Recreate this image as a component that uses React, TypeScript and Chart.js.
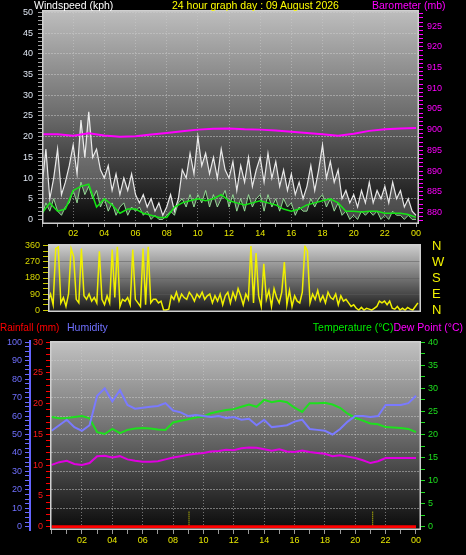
import React, { useEffect, useRef } from 'react';
import { Chart, registerables } from 'chart.js';

Chart.register(...registerables);

const FONT = '"Liberation Sans", Arial, sans-serif';

// ---------- data ----------
// wind, every 15 minutes from 00:00 to 24:00 (kph)
const gustKph = [
  8, 17, 5, 10, 17, 6, 9, 13, 18, 11, 24, 15, 26, 15, 17, 12, 10, 13, 7, 11, 6, 10, 7, 11,
  6, 4, 6, 3, 5, 2, 4, 1, 3, 6, 2, 5, 12, 10, 16, 11, 20, 13, 16, 11, 15, 10, 17, 12,
  10, 14, 7, 13, 9, 15, 8, 12, 15, 9, 16, 10, 14, 8, 12, 7, 11, 6, 9, 5, 8, 13, 7, 12,
  18, 10, 14, 9, 12, 5, 7, 4, 6, 3, 7, 4, 9, 4, 7, 5, 8, 4, 9, 5, 7, 3, 5, 2, 1,
];
const speedKph = [
  1, 4, 2, 5, 2, 1, 3, 4, 7, 4, 9, 6, 8, 5, 7, 3, 5, 2, 4, 1, 3, 4, 1, 3,
  2, 3, 1, 2, 0, 1, 0, 0, 1, 2, 1, 4, 5, 3, 6, 3, 6, 4, 7, 3, 6, 3, 5, 7,
  3, 6, 2, 5, 2, 6, 3, 5, 6, 2, 6, 3, 5, 2, 5, 3, 4, 1, 3, 2, 2, 5, 3, 5,
  6, 3, 5, 2, 4, 1, 2, 0, 1, 0, 2, 1, 2, 1, 2, 0, 1, 0, 2, 1, 1, 0, 1, 0, 0,
];
// average wind, every 30 minutes (kph)
const avgKph = [
  1.5, 4, 2, 2.5, 7, 8, 8.5, 3, 5, 3.5, 1.5, 2.5, 2.5, 1.5, 1, 0.5, 0.5, 3, 4, 4.5,
  5, 4.5, 5, 6, 4.5, 4, 3.5, 4, 4.5, 4, 3.5, 2.5, 2, 2.5, 3.5, 4, 4.5, 5, 4, 2,
  2, 1.8, 2, 2, 1.5, 1.5, 1.5, 1.2, 0.5,
];
// barometer, hourly (mb)
const baroMb = [
  898.9, 898.9, 898.5, 899.1, 898.6, 898.3, 898.4, 898.8, 899.2, 899.6, 900.0, 900.2, 900.3,
  900.1, 900.0, 899.8, 899.5, 899.2, 898.9, 898.5, 899.0, 899.7, 900.1, 900.3, 900.4,
];
// wind direction, every 10 minutes (degrees)
const windDirDeg = [
  50, 90, 30, 345, 355, 40, 70, 20, 90, 345, 300, 60, 40, 345, 80, 60, 90, 50,
  70, 40, 330, 60, 30, 80, 40, 340, 70, 355, 20, 60, 50, 70, 30, 340, 60, 40,
  20, 345, 30, 355, 40, 60, 60, 40, 50, 0, 0, 5, 80, 60, 100, 50, 90, 70,
  60, 100, 80, 50, 90, 70, 100, 60, 80, 90, 40, 80, 50, 90, 30, 80, 100, 40,
  100, 60, 120, 80, 30, 90, 60, 360, 40, 320, 80, 20, 260, 60, 110, 20, 120, 70,
  40, 100, 270, 30, 110, 20, 80, 50, 40, 100, 360, 330, 40, 90, 60, 110, 50, 80,
  40, 100, 70, 60, 90, 30, 80, 50, 60, 40, 20, 30, 10, 0, 15, 0, 10, 5,
  0, 10, 20, 50, 40, 50, 30, 50, 10, 5, 20, 0, 10, 0, 15, 5, 0, 20, 40,
];
// every 30 minutes
const humidityPct = [
  52, 55, 58, 54, 52, 55, 71, 75, 68, 74, 66, 64, 64.5, 65, 65.5, 67, 63, 62, 60, 60.5,
  60, 59.5, 60, 59, 59.5, 58, 58.5, 55, 58, 54, 54.5, 55, 57, 58, 53, 52.5, 52, 50, 53, 57,
  60, 60, 59.5, 60, 66, 66, 66, 67, 71,
];
const temperatureC = [
  23.8, 23.5, 23.6, 23.8, 24, 23.5, 20.5, 20.1, 21.2, 20.3, 21, 21.3, 21.4, 21.3, 21.1, 21,
  22.6, 23, 23.3, 23.7, 23.9, 24.6, 25, 25.3, 25.5, 26, 26.5, 26, 27.5, 27, 27.3, 27,
  25.8, 24.9, 26.8, 26.8, 26.9, 26.5, 25.8, 24.5, 23.6, 23, 22.4, 22.2, 21.6, 21.5, 21.4, 21.2, 20.5,
];
const dewPointC = [
  13.4, 14, 14.3, 13.6, 13.4, 13.8, 15.3, 15.4, 15, 15.3, 14.6, 14.3, 14.1, 14.1, 14.2, 14.6,
  15, 15.3, 15.6, 15.8, 16, 16.3, 16.4, 16.7, 16.6, 17, 17.2, 17.1, 16.8, 16.5, 16.8, 16.3,
  16.2, 16.5, 16.2, 16, 15.8, 15.3, 15.5, 15.2, 14.9, 14.4, 13.8, 14.2, 14.9, 14.9, 14.9, 14.9, 14.9,
];
// hourly rainfall (mm)
const rainfallMm = [0, 0, 0, 0, 0, 0, 0, 0, 0, 0, 0, 0, 0, 0, 0, 0, 0, 0, 0, 0, 0, 0, 0, 0, 0];
// yellow dotted marks on the rain axis
const rainMarkHours = [9.05, 21.15];
const rainMarkMm = [2.6, 2.6];

const compassLabels: Record<number, string> = { 0: 'N', 90: 'E', 180: 'S', 270: 'W', 360: 'N' };

// ---------- helpers ----------
const hh = (v: number) => String(((v % 24) + 24) % 24).padStart(2, '0');
const range = (a: number, b: number, s: number) => {
  const r: number[] = [];
  for (let v = a; v <= b + 1e-9; v += s) r.push(Math.round(v * 1000) / 1000);
  return r;
};
const series = (vals: number[], step: number) => vals.map((y, i) => ({ x: i * step, y }));
const fixAxis = (size: number, horizontal = false) => (s: any) => {
  if (horizontal) s.height = size;
  else s.width = size;
  s.paddingTop = 0;
  s.paddingBottom = 0;
  s.paddingLeft = 0;
  s.paddingRight = 0;
};
const setTicks = (vals: number[]) => (s: any) => {
  s.ticks = vals.map((value) => ({ value }));
};
const isMult = (v: number, m: number) => Math.abs(v / m - Math.round(v / m)) < 1e-6;

const GRID = 'rgba(205,205,205,0.5)';

const areaPlugin = {
  id: 'area',
  beforeDraw(chart: any, _a: any, opts: any) {
    const { ctx, chartArea: a } = chart;
    if (!a) return;
    const g = ctx.createLinearGradient(0, a.top, 0, a.bottom);
    (opts.stops || []).forEach((s: [number, string]) => g.addColorStop(s[0], s[1]));
    ctx.save();
    ctx.fillStyle = g;
    ctx.fillRect(a.left, a.top, a.right - a.left, a.bottom - a.top);
    ctx.restore();
  },
  afterDraw(chart: any, _a: any, opts: any) {
    const { ctx, chartArea: a } = chart;
    if (!a) return;
    ctx.save();
    ctx.strokeStyle = opts.border || '#cccccc';
    ctx.lineWidth = 1.5;
    ctx.strokeRect(a.left + 0.75, a.top + 0.75, a.right - a.left - 1.5, a.bottom - a.top - 1.5);
    ctx.restore();
  },
};

const tickFont = { family: FONT, size: 9 };

const hourAxis = (min: number, max: number, height: number, tickLen: number) => ({
  type: 'linear' as const,
  min,
  max,
  afterBuildTicks: setTicks(range(0, 24, 1)),
  ticks: {
    autoSkip: false,
    maxRotation: 0,
    color: '#e6e600',
    font: tickFont,
    padding: 1,
    callback: (v: any) => (isMult(v, 2) && v > 0 ? hh(v) : ''),
  },
  grid: {
    color: (c: any) =>
      c.tick && isMult(c.tick.value, 2) && c.tick.value > 0 && c.tick.value < 24 ? GRID : 'transparent',
    tickColor: '#9a9a9a',
    tickLength: tickLen,
  },
  border: { display: false, dash: [1, 2] },
  afterFit: fixAxis(height, true),
});

export default function App() {
  const topRef = useRef<HTMLCanvasElement>(null);
  const midRef = useRef<HTMLCanvasElement>(null);
  const botRef = useRef<HTMLCanvasElement>(null);

  useEffect(() => {
    const common = {
      animation: false as const,
      responsive: false,
      maintainAspectRatio: false,
      events: [] as any[],
      elements: { point: { radius: 0 }, line: { tension: 0 } },
    };

    const top = new Chart(topRef.current!, {
      type: 'line',
      data: {
        datasets: [
          { label: 'Barometer', data: series(baroMb, 1), yAxisID: 'yB', borderColor: '#ff00ff', borderWidth: 2 },
          { label: 'Average', data: series(avgKph, 0.5), yAxisID: 'y', borderColor: '#14e614', borderWidth: 1.5 },
          {
            label: 'Speed',
            data: series(speedKph, 0.25),
            yAxisID: 'y',
            borderColor: 'rgba(160,240,160,0.85)',
            borderWidth: 1,
          },
          {
            label: 'Gust',
            data: series(gustKph, 0.25),
            yAxisID: 'y',
            borderColor: 'rgba(250,250,250,0.9)',
            borderWidth: 1.2,
            fill: '-1',
            backgroundColor: 'rgba(205,205,205,0.3)',
          },
        ],
      },
      options: {
        ...common,
        layout: { padding: { top: 10, left: 0, right: 0, bottom: 0 } },
        plugins: {
          legend: { display: false },
          tooltip: { enabled: false },
          area: { stops: [[0, '#bebebe'], [0.5, '#6a6a6a'], [1, '#080808']], border: '#d0d0d0' },
        } as any,
        scales: {
          x: hourAxis(0, 24.19, 18, 3),
          y: {
            type: 'linear',
            position: 'left',
            min: -1.1,
            max: 50.6,
            afterBuildTicks: setTicks(range(0, 50, 1)),
            ticks: {
              autoSkip: false,
              color: '#dfe6f2',
              font: tickFont,
              padding: 5,
              callback: (v: any) => (isMult(v, 5) ? String(v) : ''),
            },
            grid: {
              color: (c: any) => (c.tick && isMult(c.tick.value, 5) && c.tick.value > 0 ? GRID : 'transparent'),
              tickColor: '#a0a0a0',
              tickLength: 4,
            },
            border: { display: false, dash: [2, 1] },
            afterFit: fixAxis(42),
          },
          yB: {
            type: 'linear',
            position: 'right',
            min: 877.2,
            max: 928.9,
            afterBuildTicks: setTicks(range(878, 928, 1)),
            ticks: {
              autoSkip: false,
              color: '#ff00ff',
              font: tickFont,
              padding: 4,
              callback: (v: any) => (isMult(v, 5) && v >= 880 && v <= 925 ? String(v) : ''),
            },
            grid: { drawOnChartArea: false, tickColor: '#ff00ff', tickLength: 4 },
            border: { display: false },
            afterFit: fixAxis(47),
          },
        } as any,
      },
      plugins: [areaPlugin],
    } as any);

    const mid = new Chart(midRef.current!, {
      type: 'line',
      data: {
        datasets: [
          { label: 'Direction', data: series(windDirDeg, 1 / 6), yAxisID: 'y', borderColor: '#f0f000', borderWidth: 1.5 },
        ],
      },
      options: {
        ...common,
        layout: { padding: { top: 8, bottom: 6, left: 0, right: 0 } },
        plugins: {
          legend: { display: false },
          tooltip: { enabled: false },
          area: { stops: [[0, '#d0d0d0'], [0.55, '#6a6a6a'], [1, '#161616']], border: '#d0d0d0' },
        } as any,
        scales: {
          x: { type: 'linear', min: 0, max: 24.2, display: false },
          y: {
            type: 'linear',
            position: 'left',
            min: -11,
            max: 371,
            afterBuildTicks: setTicks(range(0, 360, 30)),
            ticks: {
              autoSkip: false,
              color: '#d8d800',
              font: tickFont,
              padding: 3,
              callback: (v: any) => (isMult(v, 90) ? String(v) : ''),
            },
            grid: {
              color: (c: any) =>
                c.tick && isMult(c.tick.value, 90) && c.tick.value > 0 && c.tick.value < 360
                  ? 'rgba(90,90,90,0.5)'
                  : 'transparent',
              tickColor: '#c8c800',
              tickLength: 5,
            },
            border: { display: false },
            afterFit: fixAxis(48),
          },
          y2: {
            type: 'linear',
            position: 'right',
            min: -11,
            max: 371,
            afterBuildTicks: setTicks([0, 90, 180, 270, 360]),
            ticks: {
              autoSkip: false,
              color: '#f2f200',
              font: { family: FONT, size: 13 },
              padding: 11,
              callback: (v: any) => compassLabels[v] ?? '',
            },
            grid: { drawOnChartArea: false, drawTicks: false },
            border: { display: false },
            afterFit: fixAxis(45),
          },
        } as any,
      },
      plugins: [areaPlugin],
    } as any);

    const markData: any[] = [];
    rainMarkHours.forEach((h, i) => {
      markData.push({ x: h, y: 0 }, { x: h, y: rainMarkMm[i] }, { x: h + 0.01, y: null });
    });

    const bot = new Chart(botRef.current!, {
      type: 'line',
      data: {
        datasets: [
          { label: 'Rainfall', data: series(rainfallMm, 1), yAxisID: 'yR', borderColor: '#ff0000', borderWidth: 3 },
          { label: 'Rain marks', data: markData, yAxisID: 'yR', borderColor: '#e8e800', borderWidth: 1, borderDash: [1, 1], spanGaps: false },
          { label: 'Humidity', data: series(humidityPct, 0.5), yAxisID: 'yH', borderColor: '#7a7aff', borderWidth: 2 },
          { label: 'Temperature', data: series(temperatureC, 0.5), yAxisID: 'yT', borderColor: '#1ee01e', borderWidth: 2 },
          { label: 'Dew Point', data: series(dewPointC, 0.5), yAxisID: 'yT', borderColor: '#e000e0', borderWidth: 2 },
        ],
      },
      options: {
        ...common,
        layout: { padding: { top: 23, left: 0, right: 0, bottom: 0 } },
        plugins: {
          legend: { display: false },
          tooltip: { enabled: false },
          area: { stops: [[0, '#c2c2c2'], [0.5, '#6a6a6a'], [1, '#0a0a0a']], border: '#d0d0d0' },
        } as any,
        scales: {
          x: hourAxis(-0.105, 24.33, 25, 4),
          yH: {
            type: 'linear',
            position: 'left',
            weight: 2,
            min: -1.8,
            max: 100.7,
            afterBuildTicks: setTicks(range(0, 100, 2.5)),
            ticks: {
              autoSkip: false,
              color: '#7070ff',
              font: tickFont,
              padding: 3,
              callback: (v: any) => (isMult(v, 10) ? String(v) : ''),
            },
            grid: {
              color: (c: any) =>
                c.tick && isMult(c.tick.value, 10) && c.tick.value > 0 && c.tick.value < 100 ? GRID : 'transparent',
              tickColor: '#6a6aff',
              tickLength: 5,
            },
            border: { display: true, color: '#6464ff', width: 2, dash: [2, 1] },
            afterFit: fixAxis(30),
          },
          yR: {
            type: 'linear',
            position: 'left',
            weight: 1,
            min: -0.54,
            max: 30.2,
            afterBuildTicks: setTicks(range(0, 30, 1)),
            ticks: {
              autoSkip: false,
              color: '#ff1a1a',
              font: tickFont,
              padding: 3,
              callback: (v: any) => (isMult(v, 5) ? String(v) : ''),
            },
            grid: { drawOnChartArea: false, tickColor: '#ff0000', tickLength: 4 },
            border: { display: false },
            afterFit: fixAxis(20),
          },
          yT: {
            type: 'linear',
            position: 'right',
            min: -0.72,
            max: 40.28,
            afterBuildTicks: setTicks(range(0, 40, 2.5)),
            ticks: {
              autoSkip: false,
              color: '#1ee01e',
              font: tickFont,
              padding: 3,
              callback: (v: any) => (isMult(v, 5) ? String(v) : ''),
            },
            grid: { drawOnChartArea: false, tickColor: '#1ee01e', tickLength: 4 },
            border: { display: false },
            afterFit: fixAxis(45),
          },
        } as any,
      },
      plugins: [areaPlugin],
    } as any);

    return () => {
      top.destroy();
      mid.destroy();
      bot.destroy();
    };
  }, []);

  const txt = (left: number, top: number, color: string, size = 10.5): React.CSSProperties => ({
    position: 'absolute',
    left,
    top,
    color,
    fontSize: size,
    whiteSpace: 'nowrap',
    zIndex: 2,
  });
  const cv = (top: number): React.CSSProperties => ({ position: 'absolute', left: 0, top, display: 'block' });

  return (
    <div
      style={{
        position: 'absolute',
        left: 0,
        top: 0,
        width: 466,
        height: 555,
        background: '#000',
        overflow: 'hidden',
        fontFamily: FONT,
        fontSize: 10.5,
        lineHeight: '11px',
      }}
    >
      <canvas ref={topRef} width={466} height={242} style={cv(0)} />
      <canvas ref={midRef} width={466} height={82} style={cv(236)} />
      <canvas ref={botRef} width={466} height={237} style={cv(318)} />
      <span style={txt(34, 0, '#ffffff')}>Windspeed (kph)</span>
      <span style={txt(172, 0, '#ffff00')}>24 hour graph day : 09 August 2026</span>
      <span style={txt(372, 0, '#ff00ff')}>Barometer (mb)</span>
      <span style={txt(0, 322, '#ff0000', 10)}>Rainfall (mm)</span>
      <span style={txt(67, 322, '#7070ff')}>Humidity</span>
      <span style={{ position: 'absolute', right: 3, top: 322, whiteSpace: 'nowrap', zIndex: 2, fontSize: 10.5 }}>
        <span style={{ color: '#00ee00' }}>Temperature (°C)</span>
        <span style={{ color: '#ff00ff' }}>Dew Point (°C)</span>
      </span>
    </div>
  );
}
